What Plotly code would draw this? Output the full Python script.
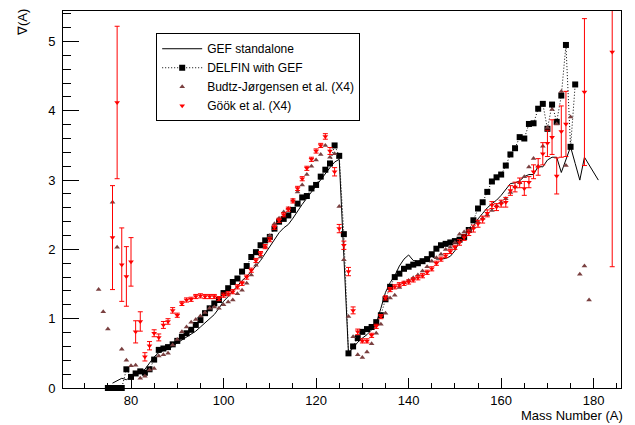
import plotly.graph_objects as go

# ---------------- data ----------------
gef_A = list(range(76, 182))
gef_nu = [0.07, 0.10, 0.14, 0.12, 0.16, 0.20, 0.23, 0.27, 0.36, 0.45,
          0.51, 0.54, 0.57, 0.60, 0.65, 0.69, 0.73, 0.77, 0.82, 0.88,
          0.94, 0.99, 1.06, 1.15, 1.25, 1.32, 1.40, 1.48, 1.55, 1.61,
          1.68, 1.76, 1.84, 1.94, 2.04, 2.14, 2.24, 2.31, 2.36, 2.45,
          2.56, 2.65, 2.74, 2.83, 2.92, 3.01, 3.10, 3.18, 3.26, 3.30,
          1.90, 0.50, 0.58, 0.66, 0.72, 0.77, 0.84, 0.93, 1.15, 1.38,
          1.52, 1.62, 1.76, 1.86, 1.92, 1.84, 1.83, 1.84, 1.86, 1.90,
          1.86, 1.86, 1.87, 1.90, 1.98, 2.12, 2.20, 2.27, 2.34, 2.44,
          2.52, 2.60, 2.66, 2.71, 2.78, 2.86, 2.95, 2.96, 2.99, 3.05,
          3.08, 3.08, 3.20, 3.19, 3.29, 3.33, 3.33, 3.11, 3.30, 3.48,
          3.24, 3.00, 3.33, 3.22, 3.11, 3.00]

delfin_A = list(range(75, 177))
delfin_nu = [0, 0, 0, 0, 0.27, 0.16, 0.21, 0.24, 0.22, 0.27,
             0.41, 0.55, 0.57, 0.59, 0.63, 0.68, 0.74, 0.79, 0.84, 0.91,
             0.98, 1.08, 1.15, 1.22, 1.27, 1.37, 1.44, 1.53, 1.58, 1.68,
             1.76, 1.89, 1.96, 2.06, 2.13, 2.18, 2.30, 2.40, 2.44, 2.49,
             2.57, 2.66, 2.75, 2.77, 2.88, 2.93, 3.05, 3.15, 3.24, 3.50,
             3.35, 2.22, 0.50, 0.60, 0.72, 0.81, 0.85, 0.88, 0.95, 1.05,
             1.28, 1.46, 1.60, 1.65, 1.72, 1.75, 1.78, 1.80, 1.83, 1.86,
             1.93, 2.01, 2.06, 2.08, 2.10, 2.12, 2.14, 2.18, 2.28, 2.42,
             2.59, 2.68, 2.83, 2.98, 3.04, 3.08, 3.21, 3.37, 3.46, 3.62,
             3.60, 3.81, 3.82, 4.03, 4.10, 3.74, 4.09, 3.84, 4.22, 4.95,
             3.48, 4.38]

budtz_A = list(range(73, 176)) + [177, 178, 179]
budtz_nu = [1.42, 1.10, 0.85, 2.68, 2.03, 0.56, 0.40, 0.32, 0.33, 0.14,
            0.17, 0.26, 0.28, 0.46, 0.48, 0.50, 0.62, 0.70, 0.81, 0.88,
            0.95, 0.99, 1.04, 1.09, 1.15, 1.17, 1.15, 1.20, 1.24, 1.27,
            1.36, 1.41, 1.51, 1.63, 1.77, 1.89, 2.04, 2.20, 2.37, 2.45,
            2.54, 2.59, 2.71, 2.83, 2.93, 3.08, 3.20, 3.29, 3.37, 3.50,
            3.33, 3.38, 2.62, 1.85, 1.03, 0.74, 0.48, 0.44, 0.52, 0.64,
            0.79, 0.92, 1.08, 1.30, 1.34, 1.45, 1.52, 1.55, 1.59, 1.63,
            1.69, 1.75, 1.83, 1.88, 1.93, 2.00, 2.03, 2.10, 2.22, 2.25,
            2.28, 2.32, 2.40, 2.45, 2.50, 2.56, 2.63, 2.68, 2.73, 2.82,
            2.90, 2.96, 3.05, 3.19, 3.31, 3.20, 3.49, 3.76, 4.02, 3.81,
            4.28, 3.21, 3.91,
            1.64, 1.76, 1.27]

gook_A = list(range(76, 175)) + [178, 184]
gook_nu = [2.17, 4.12, 1.78, 1.61, 1.82, 0.81, 0.96, 0.45, 0.61, 0.79,
           0.73, 0.91, 0.96, 1.12, 1.05, 1.22, 1.27, 1.28, 1.32, 1.33,
           1.32, 1.32, 1.32, 1.29, 1.34, 1.36, 1.39, 1.46, 1.51, 1.60,
           1.70, 1.84, 1.94, 2.04, 2.14, 2.32, 2.42, 2.50, 2.58, 2.70,
           2.88, 3.02, 3.17, 3.30, 3.42, 3.50, 3.63, 3.42, 3.12, 2.30,
           2.06, 1.68, 1.12, 0.81, 0.68, 0.68, 0.76, 0.89, 1.03, 1.30,
           1.42, 1.46, 1.49, 1.51, 1.53, 1.56, 1.59, 1.62, 1.67, 1.72,
           1.80, 1.86, 1.91, 1.97, 2.03, 2.10, 2.17, 2.24, 2.30, 2.37,
           2.43, 2.52, 2.64, 2.61, 2.66, 2.68, 2.85, 2.90, 2.96, 2.88,
           2.97, 3.12, 3.19, 3.38, 3.53, 3.62, 3.06, 3.70, 3.81,
           4.27, 4.85]
gook_err = [0.75, 1.10, 0.53, 0.43, 0.35, 0.16, 0.14, 0.06, 0.06, 0.05,
            0.05, 0.05, 0.04, 0.04, 0.03, 0.03, 0.03, 0.03, 0.03, 0.03,
            0.03, 0.03, 0.03, 0.03, 0.03, 0.03, 0.03, 0.03, 0.03, 0.03,
            0.03, 0.03, 0.03, 0.03, 0.03, 0.03, 0.03, 0.03, 0.03, 0.03,
            0.03, 0.03, 0.03, 0.03, 0.03, 0.03, 0.04, 0.05, 0.06, 0.06,
            0.06, 0.06, 0.05, 0.04, 0.03, 0.03, 0.03, 0.03, 0.03, 0.03,
            0.03, 0.03, 0.03, 0.03, 0.03, 0.03, 0.03, 0.03, 0.03, 0.03,
            0.03, 0.03, 0.03, 0.03, 0.03, 0.04, 0.04, 0.04, 0.05, 0.05,
            0.05, 0.05, 0.05, 0.05, 0.05, 0.07, 0.07, 0.07, 0.07, 0.10,
            0.08, 0.10, 0.12, 0.16, 0.19, 0.25, 0.26, 0.37, 0.47,
            1.06, 3.10]

x_range = [65.3, 185.9]
y_range = [0, 5.44]

FONT = "Liberation Sans, Arial, Helvetica, sans-serif"

fig = go.Figure()

fig.add_trace(go.Scatter(
    x=delfin_A, y=delfin_nu, mode="lines+markers", name="DELFIN with GEF",
    line=dict(color="black", width=1, dash="1px,2px"),
    marker=dict(symbol="square", size=6, color="black"),
    cliponaxis=False, legendrank=2))

fig.add_trace(go.Scatter(
    x=gef_A, y=gef_nu, mode="lines", name="GEF standalone",
    line=dict(color="black", width=1), legendrank=1))

fig.add_trace(go.Scatter(
    x=budtz_A, y=budtz_nu, mode="markers", name="Budtz-Jørgensen et al. (X4)",
    marker=dict(symbol="triangle-up", size=5, color="#7a4040"),
    legendrank=3))

fig.add_trace(go.Scatter(
    x=gook_A, y=gook_nu, mode="markers", name="Göök et al. (X4)",
    marker=dict(symbol="triangle-down", size=5, color="red"),
    error_y=dict(type="data", array=gook_err, color="red", thickness=1, width=2.5),
    legendrank=4))

fig.update_layout(
    width=635, height=425,
    margin=dict(l=63, r=14, t=11, b=37),
    paper_bgcolor="white", plot_bgcolor="white",
    font=dict(family=FONT, size=13, color="black"),
    showlegend=True,
    legend=dict(x=0.167, y=0.941, xanchor="left", yanchor="top",
                bgcolor="white", bordercolor="black", borderwidth=1,
                font=dict(family=FONT, size=12), itemwidth=40,
                tracegroupgap=0),
    xaxis=dict(range=x_range, showgrid=False, zeroline=False,
               showline=True, linecolor="black", linewidth=1, mirror=True,
               ticks="inside", ticklen=10, tickcolor="black",
               tick0=80, dtick=20, tickfont=dict(size=13),
               minor=dict(ticks="inside", ticklen=5, dtick=5, tick0=80,
                          tickcolor="black")),
    yaxis=dict(range=y_range, showgrid=False, zeroline=False,
               showline=True, linecolor="black", linewidth=1, mirror=True,
               ticks="inside", ticklen=16, tickcolor="black",
               tick0=0, dtick=1, tickfont=dict(size=13), ticklabelstandoff=4,
               minor=dict(ticks="inside", ticklen=8, dtick=0.2, tick0=0,
                          tickcolor="black")),
    annotations=[
        dict(text="Mass Number (A)", xref="paper", yref="paper",
             x=1.007, y=-0.072, xanchor="right", yanchor="middle",
             showarrow=False, font=dict(family=FONT, size=13)),
        dict(text="∇(A)", xref="paper", yref="paper",
             x=-0.073, y=1.01, xanchor="center", yanchor="top",
             textangle=-90, showarrow=False, font=dict(family=FONT, size=13)),
    ],
)

fig.write_html("out.html",
               config={"displayModeBar": False},
               post_script="document.body.style.margin='0';document.body.style.padding='0';")
